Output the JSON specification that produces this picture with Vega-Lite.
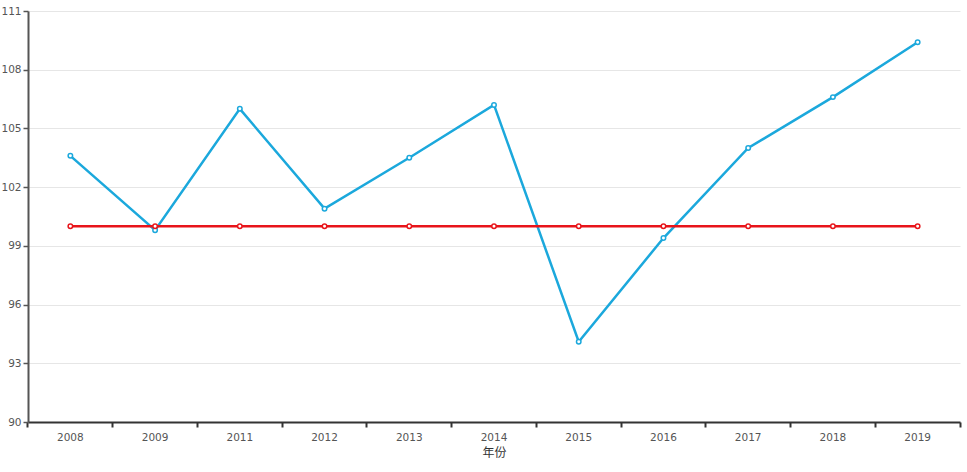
{
  "$schema": "https://vega.github.io/schema/vega-lite/v6.json",
  "width": 932,
  "height": 411,
  "autosize": {"type": "none"},
  "padding": {"left": 28, "top": 11, "right": 7, "bottom": 39},
  "background": "#ffffff",
  "data": {
    "values": [
      {"year": "2008", "series": "指数", "value": 103.6},
      {"year": "2009", "series": "指数", "value": 99.8},
      {"year": "2011", "series": "指数", "value": 106.0},
      {"year": "2012", "series": "指数", "value": 100.9},
      {"year": "2013", "series": "指数", "value": 103.5},
      {"year": "2014", "series": "指数", "value": 106.2},
      {"year": "2015", "series": "指数", "value": 94.1},
      {"year": "2016", "series": "指数", "value": 99.4},
      {"year": "2017", "series": "指数", "value": 104.0},
      {"year": "2018", "series": "指数", "value": 106.6},
      {"year": "2019", "series": "指数", "value": 109.4},
      {"year": "2008", "series": "基准", "value": 100},
      {"year": "2009", "series": "基准", "value": 100},
      {"year": "2011", "series": "基准", "value": 100},
      {"year": "2012", "series": "基准", "value": 100},
      {"year": "2013", "series": "基准", "value": 100},
      {"year": "2014", "series": "基准", "value": 100},
      {"year": "2015", "series": "基准", "value": 100},
      {"year": "2016", "series": "基准", "value": 100},
      {"year": "2017", "series": "基准", "value": 100},
      {"year": "2018", "series": "基准", "value": 100},
      {"year": "2019", "series": "基准", "value": 100}
    ]
  },
  "encoding": {
    "x": {
      "field": "year",
      "type": "ordinal",
      "title": "年份",
      "scale": {"type": "band", "paddingInner": 0, "paddingOuter": 0},
      "axis": {
        "bandPosition": 1,
        "tickExtra": true,
        "labelAngle": 0,
        "labelPadding": 5,
        "titlePadding": 5,
        "domainColor": "#333333",
        "domainWidth": 2,
        "tickColor": "#333333",
        "tickWidth": 2,
        "tickSize": 5,
        "labelColor": "#555555",
        "labelFont": "DejaVu Sans",
        "labelFontSize": 10.5,
        "titleFont": "Noto Sans CJK SC",
        "titleFontSize": 12,
        "titleFontWeight": "normal",
        "titleColor": "#333333"
      }
    },
    "y": {
      "field": "value",
      "type": "quantitative",
      "title": null,
      "scale": {"domain": [90, 111], "nice": false, "zero": false},
      "axis": {
        "values": [90, 93, 96, 99, 102, 105, 108, 111],
        "grid": true,
        "gridColor": "#e6e6e6",
        "gridWidth": 1,
        "domainColor": "#555555",
        "domainWidth": 2,
        "tickColor": "#555555",
        "tickWidth": 1.5,
        "tickSize": 5,
        "labelPadding": 2,
        "labelColor": "#555555",
        "labelFont": "DejaVu Sans",
        "labelFontSize": 10.5
      }
    },
    "color": {
      "field": "series",
      "type": "nominal",
      "legend": null,
      "scale": {"domain": ["指数", "基准"], "range": ["#1ba8dc", "#e8141a"]}
    }
  },
  "layer": [
    {"mark": {"type": "line", "strokeWidth": 2.5}},
    {"mark": {"type": "point", "filled": true, "fill": "#ffffff", "strokeWidth": 1.5, "size": 20, "opacity": 1}, "encoding": {"stroke": {"field": "series", "type": "nominal", "legend": null, "scale": {"domain": ["指数", "基准"], "range": ["#1ba8dc", "#e8141a"]}}}}
  ],
  "config": {
    "view": {"stroke": null}
  }
}
